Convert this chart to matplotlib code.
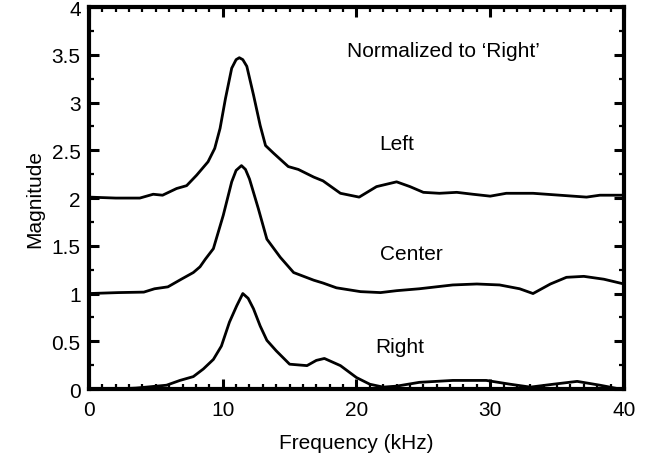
import matplotlib
matplotlib.use('Agg')
from matplotlib import pyplot as plt
from matplotlib.ticker import MultipleLocator

plt.rcParams['font.family'] = ['Liberation Sans', 'DejaVu Sans']

# Left (offset by 2)
left_x = [0, 2, 3.8, 4.8, 5.5, 6.55, 7.3, 8.05, 8.9, 9.4, 9.8, 10.2, 10.67, 11.0,
          11.24, 11.5, 11.8, 12.3, 12.8, 13.2, 13.8, 14.9, 15.65, 16.8, 17.5, 18.8,
          20.2, 21.5, 23.0, 24.0, 25.0, 26.2, 27.5, 28.7, 30.0, 31.2, 33.2, 35.2,
          37.2, 38.2, 40]
left_y = [2.01, 2.0, 2.0, 2.04, 2.03, 2.10, 2.13, 2.24, 2.38, 2.52, 2.73, 3.04, 3.36,
          3.45, 3.47, 3.45, 3.38, 3.08, 2.76, 2.55, 2.47, 2.33, 2.30, 2.22, 2.18, 2.05,
          2.01, 2.12, 2.17, 2.12, 2.06, 2.05, 2.06, 2.04, 2.02, 2.05, 2.05, 2.03,
          2.01, 2.03, 2.03]

# Center (offset by 1)
center_x = [0, 2.2, 4.1, 4.9, 5.9, 6.9, 7.8, 8.3, 8.7, 9.3, 10.04, 10.67, 11.0, 11.4,
            11.7, 12.0, 12.66, 13.3, 14.3, 15.3, 16.8, 17.5, 18.5, 20.3, 21.8, 23.0,
            24.7, 27.2, 29.0, 30.7, 32.2, 33.2, 34.5, 35.7, 37.0, 38.5, 40]
center_y = [1.0, 1.01, 1.015, 1.05, 1.07, 1.15, 1.22, 1.28, 1.36, 1.47, 1.82, 2.17,
            2.29, 2.34, 2.30, 2.20, 1.89, 1.57, 1.38, 1.22, 1.14, 1.11, 1.06, 1.02,
            1.01, 1.03, 1.05, 1.09, 1.10, 1.09, 1.05, 1.00, 1.10, 1.17, 1.18, 1.15,
            1.10]

# Right (reference)
right_x = [0, 2, 3.5, 4.3, 5.8, 6.8, 7.8, 8.55, 9.3, 9.9, 10.5, 11.04, 11.5, 11.9,
           12.3, 12.8, 13.3, 14.0, 15.0, 16.3, 17.0, 17.6, 18.8, 20.0, 21.0, 22.0,
           23.0, 24.7, 27.2, 29.7, 31.5, 33.0, 34.7, 36.5, 38.2, 39.7, 40]
right_y = [0.0, 0.0, 0.01, 0.02, 0.04, 0.09, 0.13, 0.21, 0.31, 0.45, 0.70, 0.87, 1.0,
           0.95, 0.84, 0.66, 0.51, 0.40, 0.26, 0.245, 0.30, 0.32, 0.245, 0.12, 0.05,
           0.02, 0.03, 0.07, 0.09, 0.09, 0.05, 0.02, 0.05, 0.08, 0.04, 0.0, 0.0]

fig = plt.figure(figsize=(6.52, 4.56), dpi=100)
ax = fig.add_axes([0.1365, 0.1447, 0.8205, 0.8375])

for xs, ys in [(left_x, left_y), (center_x, center_y), (right_x, right_y)]:
    ax.plot(xs, ys, color='black', lw=2.0, solid_joinstyle='round')

ax.text(26.5, 3.55, 'Normalized to \u2018Right\u2019', fontsize=15, ha='center', va='center')
ax.text(23.0, 2.57, 'Left', fontsize=15, ha='center', va='center')
ax.text(24.1, 1.42, 'Center', fontsize=15, ha='center', va='center')
ax.text(23.2, 0.45, 'Right', fontsize=15, ha='center', va='center')

ax.set_xlim(0, 40)
ax.set_ylim(0, 4)
ax.xaxis.set_major_locator(MultipleLocator(10))
ax.xaxis.set_minor_locator(MultipleLocator(1))
ax.yaxis.set_minor_locator(MultipleLocator(0.25))
ax.set_yticks([0, 0.5, 1, 1.5, 2, 2.5, 3, 3.5, 4])
ax.set_yticklabels(['0', '0.5', '1', '1.5', '2', '2.5', '3', '3.5', '4'])

ax.tick_params(which='both', direction='in', top=True, right=True, labelsize=15)
ax.tick_params(axis='x', which='major', length=7, width=2.2, pad=8)
ax.tick_params(axis='y', which='major', length=7, width=2.2, pad=6)
ax.tick_params(which='minor', length=3.5, width=1.6)
for s in ax.spines.values():
    s.set_linewidth(3.0)

ax.set_xlabel('Frequency (kHz)', fontsize=15, labelpad=10)
ax.set_ylabel('Magnitude', fontsize=15, labelpad=5)

plt.savefig('out.png', dpi=100)
